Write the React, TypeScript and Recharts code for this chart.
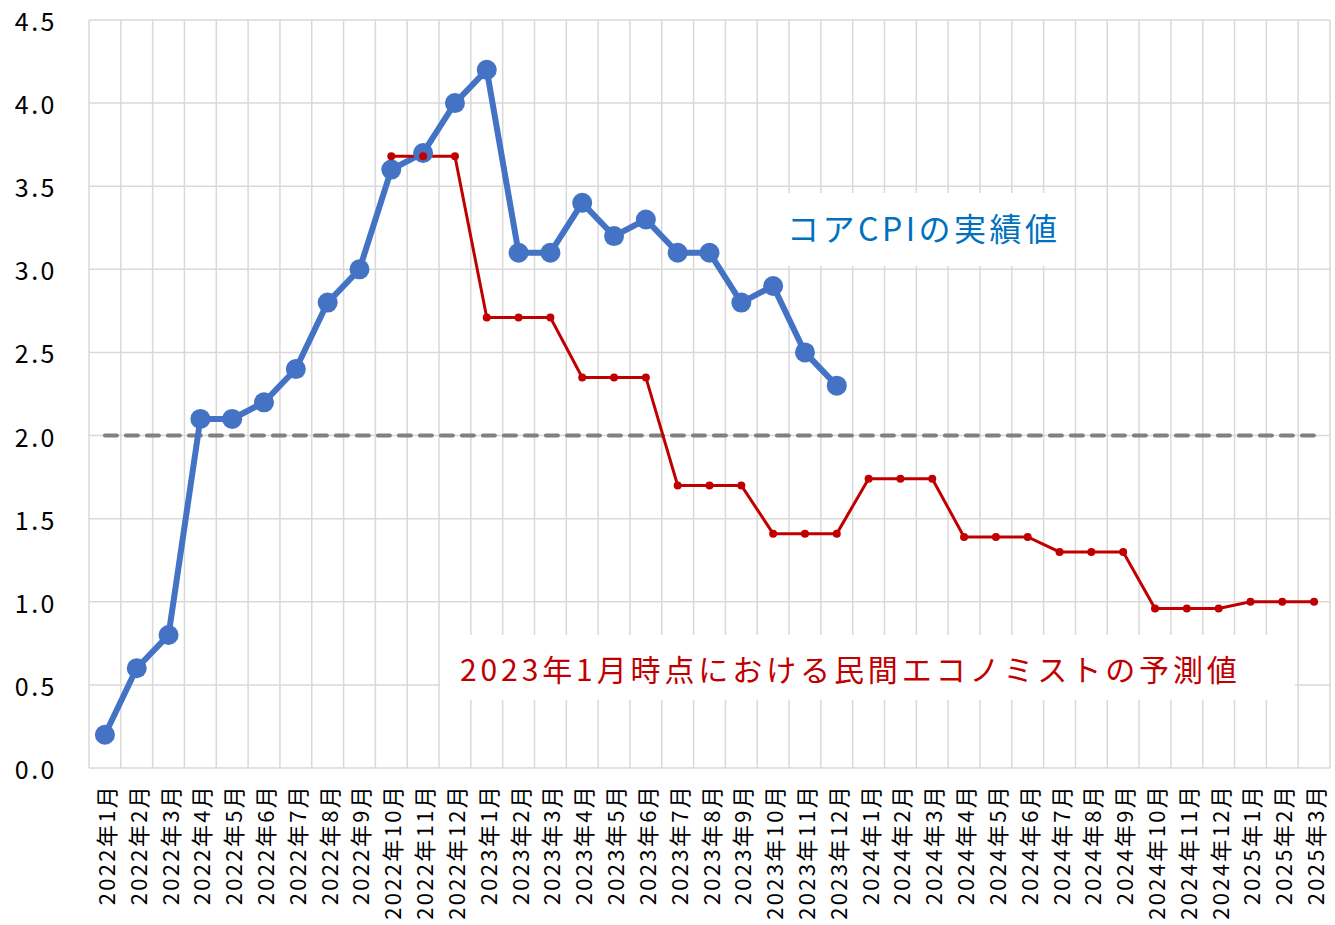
import {
    LineChart,
    Line,
    XAxis,
    YAxis,
    CartesianGrid,
    ReferenceLine,
} from "recharts";

const months = [
    "2022年1月", "2022年2月", "2022年3月", "2022年4月", "2022年5月", "2022年6月",
    "2022年7月", "2022年8月", "2022年9月", "2022年10月", "2022年11月", "2022年12月",
    "2023年1月", "2023年2月", "2023年3月", "2023年4月", "2023年5月", "2023年6月",
    "2023年7月", "2023年8月", "2023年9月", "2023年10月", "2023年11月", "2023年12月",
    "2024年1月", "2024年2月", "2024年3月", "2024年4月", "2024年5月", "2024年6月",
    "2024年7月", "2024年8月", "2024年9月", "2024年10月", "2024年11月", "2024年12月",
    "2025年1月", "2025年2月", "2025年3月",
];

// core CPI actual, from 2022年1月
const coreCpi = [
    0.2, 0.6, 0.8, 2.1, 2.1, 2.2, 2.4, 2.8, 3.0, 3.6, 3.7, 4.0,
    4.2, 3.1, 3.1, 3.4, 3.2, 3.3, 3.1, 3.1, 2.8, 2.9, 2.5, 2.3,
];

// economists' forecast as of Jan 2023, from 2022年10月
const forecastStart = "2022年10月";
const forecast = [
    3.68, 3.68, 3.68, 2.71, 2.71, 2.71, 2.35, 2.35, 2.35, 1.70, 1.70, 1.70,
    1.41, 1.41, 1.41, 1.74, 1.74, 1.74, 1.39, 1.39, 1.39, 1.30, 1.30, 1.30,
    0.96, 0.96, 0.96, 1.00, 1.00, 1.00,
];

const targetLevel = 2.0;
const yTicks = [0, 0.5, 1.0, 1.5, 2.0, 2.5, 3.0, 3.5, 4.0, 4.5];

const startIdx = months.indexOf(forecastStart);
const data = months.map((month, i) => ({
    i,
    month,
    cpi: i < coreCpi.length ? coreCpi[i] : null,
    forecast: i >= startIdx ? forecast[i - startIdx] : null,
}));

const monthTicks = months.map((_, i) => i);
// vertical grid lines sit between the months
const gridTicks = [...months.map((_, i) => i - 0.5), months.length - 0.5];
const domain = [-0.5, months.length - 0.5];

const FONT = "'Noto Sans CJK JP', 'Noto Sans', sans-serif";

const MonthTick = (props: any) => {
    const { x, y, payload } = props;
    return (
        <text
            transform={`translate(${x},${y + 8}) rotate(-90)`}
            textAnchor="end"
            dominantBaseline="central"
            fontSize={22}
            letterSpacing={2.3}
            fontFamily={FONT}
            fill="#000"
        >
            {months[payload.value]}
        </text>
    );
};

const ValueTick = (props: any) => {
    const { x, y, payload } = props;
    return (
        <text
            x={x}
            y={y}
            dx={-24}
            textAnchor="end"
            dominantBaseline="central"
            fontSize={25}
            letterSpacing={2.5}
            fontFamily={FONT}
            fill="#000"
        >
            {payload.value.toFixed(1)}
        </text>
    );
};

export default function App() {
    return (
        <div style={{ position: "absolute", left: 0, top: 0, width: 1335, height: 925, background: "#fff" }}>
            <LineChart
                width={1335}
                height={925}
                data={data}
                margin={{ top: 20, right: 5, left: 0, bottom: 0 }}
            >
                <CartesianGrid
                    xAxisId="m"
                    verticalValues={gridTicks}
                    horizontalValues={yTicks}
                    stroke="#d9d9d9"
                    strokeWidth={1.5}
                />
                <XAxis
                    xAxisId="m"
                    type="number"
                    dataKey="i"
                    domain={domain}
                    ticks={monthTicks}
                    interval={0}
                    height={157}
                    axisLine={false}
                    tickLine={false}
                    tick={<MonthTick />}
                />
                <YAxis
                    type="number"
                    domain={[0, 4.5]}
                    ticks={yTicks}
                    width={89}
                    axisLine={false}
                    tickLine={false}
                    tick={<ValueTick />}
                />
                <ReferenceLine
                    xAxisId="m"
                    segment={[
                        { x: 0, y: targetLevel },
                        { x: months.length - 1, y: targetLevel },
                    ]}
                    stroke="#808080"
                    strokeWidth={4}
                    strokeDasharray="12 9"
                    strokeLinecap="round"
                />
                <Line
                    xAxisId="m"
                    dataKey="cpi"
                    stroke="#4472c4"
                    strokeWidth={6}
                    dot={{ r: 10, fill: "#4472c4", stroke: "#4472c4", strokeWidth: 0 }}
                    isAnimationActive={false}
                />
                <Line
                    xAxisId="m"
                    dataKey="forecast"
                    stroke="#c00000"
                    strokeWidth={3}
                    dot={{ r: 4, fill: "#c00000", stroke: "#c00000", strokeWidth: 0 }}
                    isAnimationActive={false}
                />
            </LineChart>
            <div
                style={{
                    position: "absolute",
                    left: 759,
                    top: 193,
                    width: 314,
                    height: 73,
                    background: "#fff",
                    display: "flex",
                    alignItems: "center",
                    paddingLeft: 28,
                    paddingBottom: 6,
                    boxSizing: "border-box",
                    color: "#0070c0",
                    fontFamily: FONT,
                    fontSize: 32,
                    letterSpacing: 3.5,
                    whiteSpace: "nowrap",
                }}
            >
                コアCPIの実績値
            </div>
            <div
                style={{
                    position: "absolute",
                    left: 440,
                    top: 635,
                    width: 855,
                    height: 65,
                    background: "#fff",
                    display: "flex",
                    alignItems: "center",
                    paddingLeft: 20,
                    boxSizing: "border-box",
                    color: "#c00000",
                    fontFamily: FONT,
                    fontSize: 30,
                    letterSpacing: 3.9,
                    whiteSpace: "nowrap",
                }}
            >
                2023年1月時点における民間エコノミストの予測値
            </div>
        </div>
    );
}
